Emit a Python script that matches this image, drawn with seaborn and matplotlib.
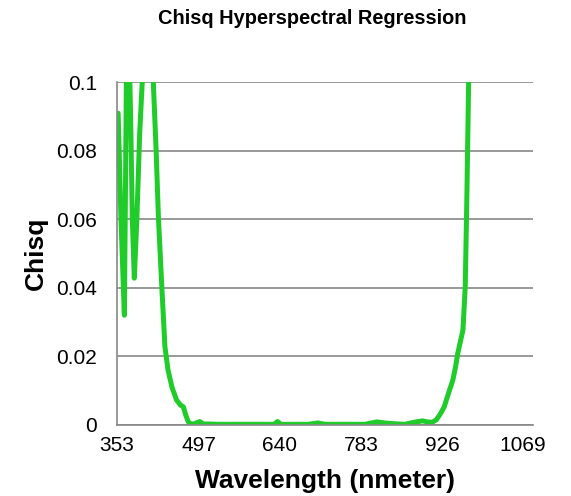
import matplotlib
matplotlib.use("Agg")
import matplotlib.pyplot as plt
import seaborn as sns
import pandas as pd
import numpy as np

wavelength = [355, 360, 366, 368, 370, 373, 377, 380, 383.5, 388, 393, 399, 405, 412, 417,
              422, 426, 432, 437.5, 443, 450, 458, 465, 470, 474, 478.5, 483, 487, 493, 499,
              505, 515, 530, 560, 600, 630, 636, 642, 660, 690, 707, 720, 760, 790, 811, 830,
              860, 880, 892, 900, 909, 916, 923, 930, 937, 945, 950, 954, 963, 967, 970, 973,
              978, 985]
chisq = [0.0909, 0.06, 0.032, 0.07, 0.11, 0.12, 0.09, 0.06, 0.0428, 0.06, 0.085, 0.105, 0.13,
         0.12, 0.1, 0.08, 0.0607, 0.0403, 0.0228, 0.016, 0.011, 0.0073, 0.0058, 0.0053, 0.003,
         0.001, 0.0002, 0.0003, 0.0006, 0.001, 0.0003, 0.0003, 0.0002, 0.0002, 0.0002, 0.0002,
         0.001, 0.0002, 0.0002, 0.0002, 0.0006, 0.0002, 0.0002, 0.0002, 0.0009, 0.0005, 0.0002,
         0.0009, 0.0012, 0.0009, 0.0008, 0.0015, 0.0032, 0.0053, 0.009, 0.013, 0.017, 0.021,
         0.0277, 0.0403, 0.0676, 0.1, 0.13, 0.16]

x_tick_values = [353, 497, 640, 783, 926, 1069]
x_tick_labels = ["353", "497", "640", "783", "926", "1069"]
y_tick_values = [0, 0.02, 0.04, 0.06, 0.08, 0.1]
y_tick_labels = ["0", "0.02", "0.04", "0.06", "0.08", "0.1"]

df = pd.DataFrame({"Wavelength": wavelength, "Chisq": chisq})

sns.set_style("white")
plt.rcParams["font.family"] = ["Liberation Sans", "DejaVu Sans"]
plt.rcParams["text.color"] = "black"
plt.rcParams["axes.labelcolor"] = "black"
plt.rcParams["xtick.color"] = "black"
plt.rcParams["ytick.color"] = "black"

fig = plt.figure(figsize=(5.71, 4.96), dpi=100)
W, H = 571, 496
ax = fig.add_axes([117 / W, 1 - 425 / H, (533 - 117) / W, (425 - 82) / H])

sns.lineplot(data=df, x="Wavelength", y="Chisq", ax=ax, color="#1fcc2a",
             linewidth=3.6, solid_joinstyle="round", solid_capstyle="round")

ax.set_xlim(353, 1086.5)
ax.set_ylim(0, 0.1)

ax.set_xticks(x_tick_values)
ax.set_xticklabels(x_tick_labels, fontsize=15)
ax.tick_params(axis="x", which="major", length=0, pad=8)
minor = [353 + 57.33 * k for k in range(13)]
ax.set_xticks(minor, minor=True)
ax.tick_params(axis="x", which="minor", length=4.3, color="#888888", width=1.2, direction="out")

ax.set_yticks(y_tick_values)
ax.set_yticklabels(y_tick_labels, fontsize=15)
ax.tick_params(axis="y", which="major", length=4.3, color="#888888", width=1.2,
               direction="out", pad=10, labelcolor="black")

ax.yaxis.grid(True, color="#888888", linewidth=1.2)
ax.set_axisbelow(True)
for s in ["top", "right"]:
    ax.spines[s].set_visible(False)
for s in ["left", "bottom"]:
    ax.spines[s].set_color("#888888")
    ax.spines[s].set_linewidth(1.2)

ax.set_xlabel("Wavelength (nmeter)", fontsize=19, fontweight="bold", labelpad=10, color="black")
ax.set_ylabel("Chisq", fontsize=19, fontweight="bold", labelpad=6, color="black")

fig.text(312 / W, 1 - 18 / H, "Chisq Hyperspectral Regression", ha="center", va="center",
         fontsize=14.4, fontweight="bold", color="black")

fig.savefig("out.png", dpi=100)
